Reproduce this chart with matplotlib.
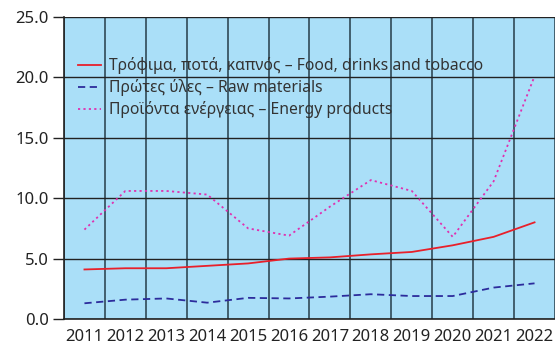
import matplotlib
matplotlib.use("Agg")
import matplotlib.pyplot as plt
import numpy as np

years = ["2011", "2012", "2013", "2014", "2015", "2016",
         "2017", "2018", "2019", "2020", "2021", "2022"]
food = [4.1, 4.2, 4.2, 4.4, 4.6, 5.0, 5.1, 5.35, 5.55, 6.1, 6.8, 8.0]
raw = [1.3, 1.6, 1.7, 1.35, 1.75, 1.7, 1.85, 2.05, 1.9, 1.9, 2.6, 2.95]
energy = [7.4, 10.6, 10.6, 10.3, 7.5, 6.9, 9.3, 11.5, 10.6, 6.8, 11.4, 20.1]

labels = ["Τρόφιμα, ποτά, καπνός – Food, drinks and tobacco",
          "Πρώτες ύλες – Raw materials",
          "Προϊόντα ενέργειας – Energy products"]

plt.rcParams['font.family'] = ['Noto Sans', 'DejaVu Sans']

fig = plt.figure(figsize=(5.55, 3.45), dpi=100)
ax = fig.add_axes([0.1153, 0.0754, 0.8847, 0.8753])
ax.set_facecolor("#aadff8")

x = np.arange(len(years))
ax.plot(x, food, color="#e8202a", lw=1.3, ls="-", label=labels[0])
ax.plot(x, raw, color="#2c2c9c", lw=1.3, ls=(0, (4, 2.5)), label=labels[1])
ax.plot(x, energy, color="#e030b0", lw=1.3, ls=(0, (1.2, 1.8)), label=labels[2])

ax.set_xlim(-0.5, len(years) - 0.5)
ax.set_ylim(0, 25)
ax.set_yticks(np.arange(0, 26, 5))
ax.set_yticklabels([f"{v:.1f}" for v in np.arange(0, 26, 5)], fontsize=12, color="#222222")
ax.set_xticks(x)
ax.set_xticklabels(years, fontsize=12, color="#222222")
ax.set_xticks(np.arange(-0.5, len(years)), minor=True)

ax.grid(True, which="minor", axis="x", color="#263e4a", lw=1.3, alpha=0.85)
ax.grid(True, which="major", axis="y", color="#222222", lw=1.0)
ax.set_axisbelow(True)

ax.tick_params(axis="y", length=8, width=1, color="#222222", pad=3)
ax.tick_params(axis="x", which="both", length=0, pad=7)
for s in ["top", "right"]:
    ax.spines[s].set_visible(False)
ax.spines["left"].set_color("#222222")
ax.spines["bottom"].set_color("#222222")
ax.spines["left"].set_linewidth(1.2)
ax.spines["bottom"].set_linewidth(1.2)

ax.legend(loc="upper left", bbox_to_anchor=(0.0, 0.913), frameon=False,
          fontsize=11.3, handlelength=1.45, handletextpad=0.5,
          labelspacing=0.32, labelcolor="#333333")

fig.savefig("out.png", dpi=100)
